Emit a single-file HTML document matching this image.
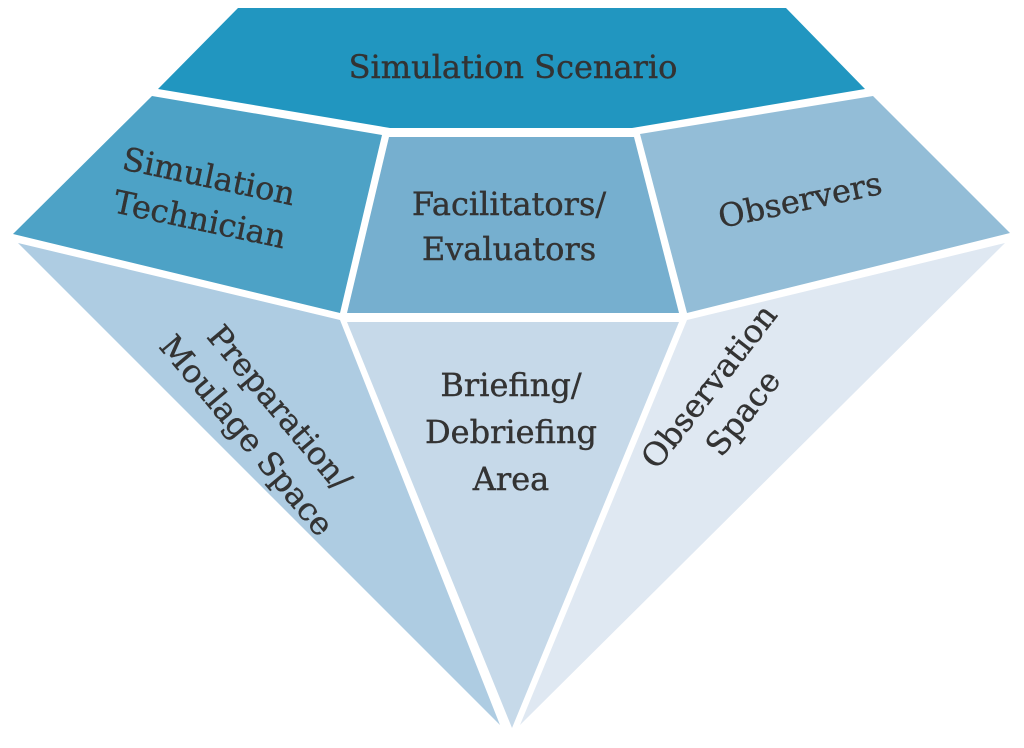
<!DOCTYPE html>
<html><head><meta charset="utf-8"><style>
html,body{margin:0;padding:0;background:#fff;}
svg{display:block}
text{font-family:"DejaVu Serif","Liberation Serif",serif;fill:#333;font-size:32px;text-anchor:middle;stroke:#333;stroke-width:0.4px;}
</style></head><body>
<svg width="1024" height="748" viewBox="0 0 1024 748" xmlns="http://www.w3.org/2000/svg">
<polygon points="238,8 786,8 865,89 632,128 390,128 158,89" fill="#2196c0"/>
<polygon points="152,96 382,135 340,313 13,234" fill="#4da2c6"/>
<polygon points="389,137 634,137 679,313 347,313" fill="#76afcf"/>
<polygon points="640,134 873,96 1010,233 687,313" fill="#93bdd7"/>
<polygon points="18,243 340,320 500,725" fill="#aecce2"/>
<polygon points="347,322 679,322 512,728" fill="#c6d9e9"/>
<polygon points="687,320 1005,243 520,725" fill="#dfe8f2"/>
<text x="513" y="78">Simulation Scenario</text>
<g transform="translate(205,195) rotate(12)"><text x="0" y="-8">Simulation</text><text x="0" y="36">Technician</text></g>
<text x="509" y="215">Facilitators/</text>
<text x="509" y="260">Evaluators</text>
<text transform="translate(800,200) rotate(-12)" x="0" y="11">Observers</text>
<g transform="translate(265,420) rotate(50)"><text x="0" y="-8">Preparation/</text><text x="0" y="35">Moulage Space</text></g>
<text x="511" y="396">Briefing/</text>
<text x="511" y="443">Debriefing</text>
<text x="511" y="490">Area</text>
<g transform="translate(724,398) rotate(-52)"><text x="0" y="-8">Observation</text><text x="0" y="35">Space</text></g>
</svg>
</body></html>
